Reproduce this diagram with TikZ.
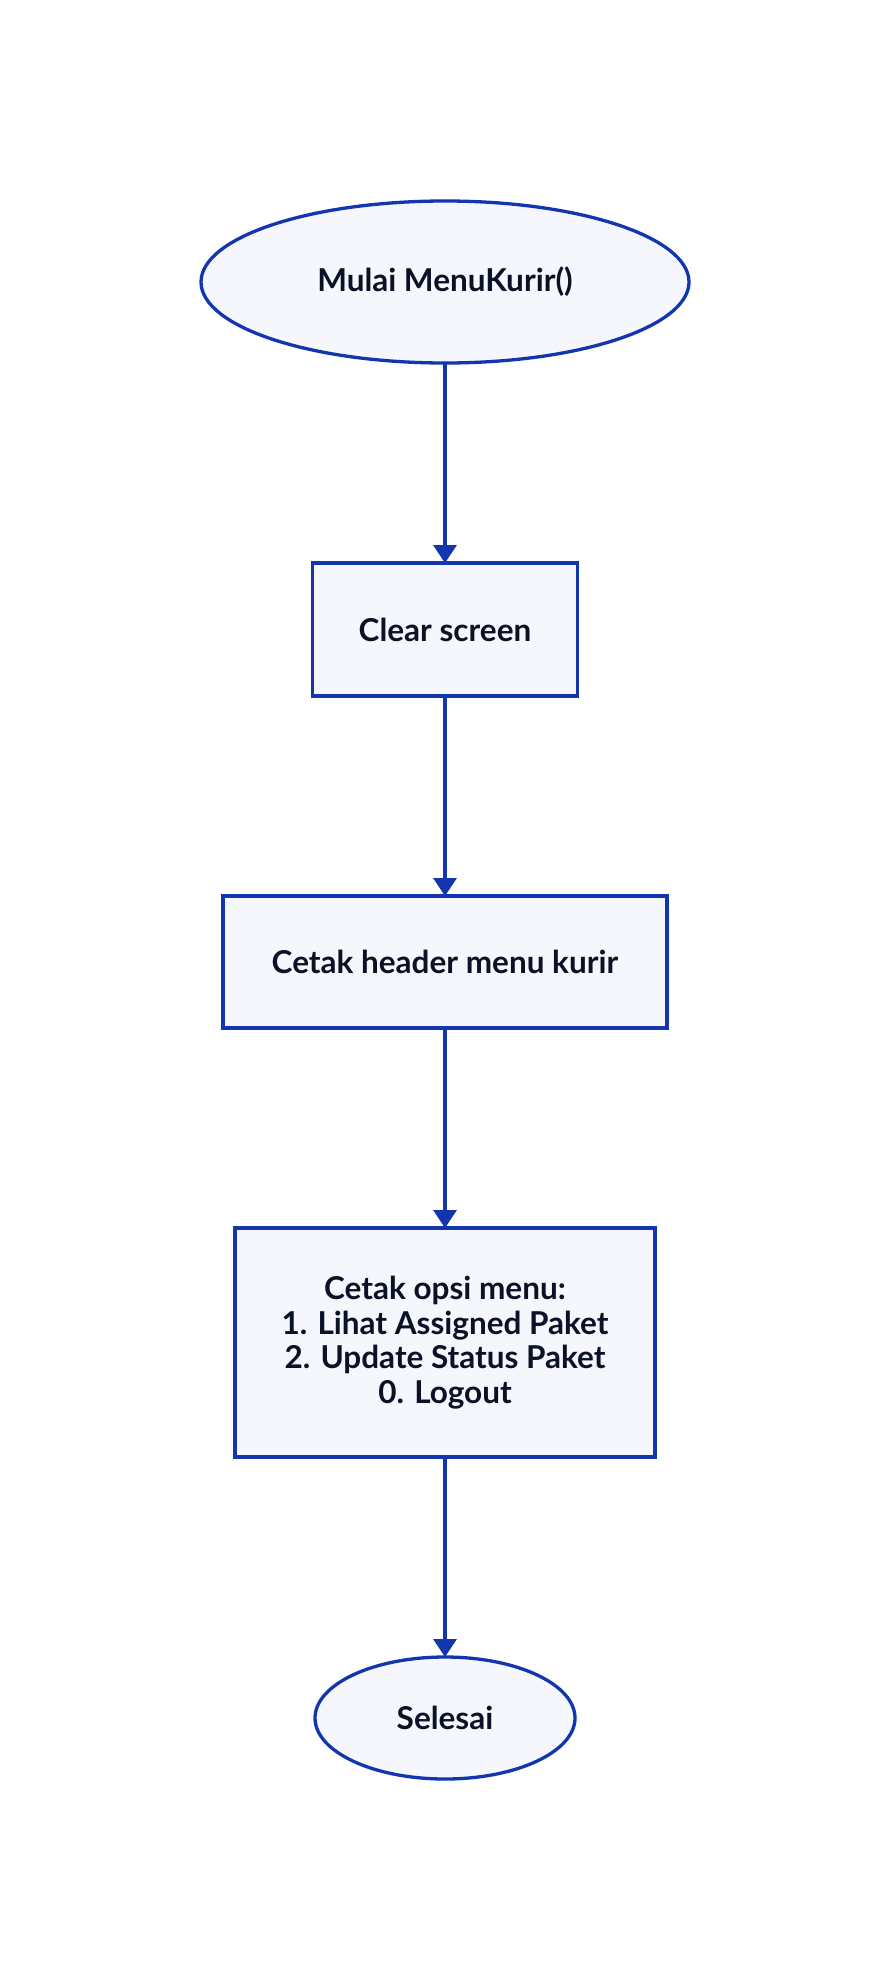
\documentclass[tikz,border=0pt]{standalone}
\usepackage{fontspec}
\setmainfont{Lato}
\usetikzlibrary{positioning,shapes.geometric,arrows.meta}
\definecolor{garisbiru}{HTML}{1336B0}
\definecolor{isibiru}{HTML}{F5F7FC}
\definecolor{teksgelap}{HTML}{0B1127}
\tikzset{
  terminal/.style={ellipse, draw=garisbiru, fill=isibiru, line width=3.3pt, text=teksgelap,
    font=\fontsize{31.5}{34.5}\selectfont\bfseries, inner sep=0pt, outer sep=0pt},
  proses/.style={rectangle, draw=garisbiru, fill=isibiru, line width=3.3pt, text=teksgelap,
    font=\fontsize{31.5}{34.5}\selectfont\bfseries, align=center, inner sep=0pt, outer sep=0pt},
  alur/.style={draw=garisbiru, line width=3.3pt, -{Triangle[width=23pt,length=18pt]}}
}

\begin{document}
\begin{tikzpicture}[node distance=200pt]
\useasboundingbox[fill=white] (0pt,0pt) rectangle (890pt,-1980pt);
\node [terminal, minimum width=488pt, minimum height=162pt] (mulai) at (445pt,-282pt) {Mulai MenuKurir()};
\node [proses, below = of mulai, minimum width=265pt, minimum height=133pt] (clear) {Clear screen};
\node [proses, below = of clear, minimum width=444pt, minimum height=132pt] (header) {Cetak header menu kurir};
\node [proses, below = of header, minimum width=420pt, minimum height=229pt] (opsi) {Cetak opsi menu:\\1. Lihat Assigned Paket\\2. Update Status Paket\\0. Logout};
\node [terminal, below = of opsi, minimum width=260pt, minimum height=122pt] (selesai) {Selesai};
\draw [alur] (mulai) -- (clear);
\draw [alur] (clear) -- (header);
\draw [alur] (header) -- (opsi);
\draw [alur] (opsi) -- (selesai);
\end{tikzpicture}
\end{document}
